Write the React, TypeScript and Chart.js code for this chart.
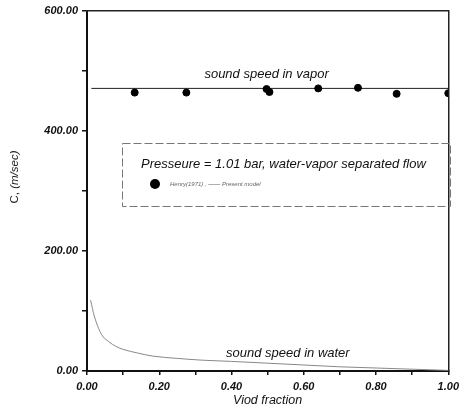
import React, { useEffect, useRef } from "react";
import { Chart, registerables } from "chart.js";

Chart.register(...registerables);

// Henry (1971) measured sound speed in vapor
const henryVoid = [0.132, 0.275, 0.497, 0.505, 0.64, 0.75, 0.857, 1.0];
const henrySpeed = [464, 464, 470, 465, 471, 472, 462, 463];

// Present model: sound speed in vapor
const vaporModelVoid = [0.012, 1.0];
const vaporModelSpeed = [471, 471];

// Present model: sound speed in water
const waterVoid = [0.01, 0.02, 0.04, 0.06, 0.08, 0.1, 0.14, 0.18, 0.25, 0.32, 0.4, 0.5, 0.6, 0.7, 0.8, 0.9, 1.0];
const waterSpeed = [118, 92, 61, 49, 41, 36, 30, 25, 21, 18, 16, 13, 10, 7, 5, 3, 1];

const xTickValues = [0, 0.1, 0.2, 0.3, 0.4, 0.5, 0.6, 0.7, 0.8, 0.9, 1.0];
const xTickLabels = ["0.00", "", "0.20", "", "0.40", "", "0.60", "", "0.80", "", "1.00"];
const yTickValues = [0, 100, 200, 300, 400, 500, 600];
const yTickLabels = ["0.00", "", "200.00", "", "400.00", "", "600.00"];

const xTitle = "Viod fraction";
const yTitleA = "C, ";
const yTitleB = "(m/sec)";
const vaporLabel = "sound speed in vapor";
const waterLabel = "sound speed in water";
const legendTitle = "Presseure = 1.01 bar, water-vapor separated flow";
const legendSub = "Henry(1971) , \u2014\u2014 Present model";

const FONT = '"Liberation Sans", Arial, sans-serif';

const annotate = {
  id: "annotate",
  afterDraw(chart: any) {
    const { ctx } = chart;
    const x = chart.scales.x;
    const y = chart.scales.y;
    ctx.save();
    ctx.fillStyle = "#111";
    ctx.textAlign = "center";
    ctx.textBaseline = "middle";
    ctx.font = `italic 13px ${FONT}`;
    ctx.fillText(vaporLabel, x.getPixelForValue(0.497), y.getPixelForValue(495));
    ctx.fillText(waterLabel, x.getPixelForValue(0.556), y.getPixelForValue(30));

    // legend box
    ctx.strokeStyle = "#777";
    ctx.lineWidth = 1;
    ctx.setLineDash([8, 3]);
    ctx.strokeRect(122.5, 143.5, 328, 63);
    ctx.setLineDash([]);
    ctx.textAlign = "left";
    ctx.fillStyle = "#111";
    ctx.font = `italic 13px ${FONT}`;
    ctx.fillText(legendTitle, 141, 164);
    ctx.beginPath();
    ctx.arc(155, 184, 5, 0, Math.PI * 2);
    ctx.fillStyle = "#000";
    ctx.fill();
    ctx.fillStyle = "#666";
    ctx.font = `italic 6px ${FONT}`;
    ctx.fillText(legendSub, 170, 184);

    // y axis title
    ctx.translate(15, 177);
    ctx.rotate(-Math.PI / 2);
    ctx.fillStyle = "#222";
    ctx.font = `11.5px ${FONT}`;
    const wa = ctx.measureText(yTitleA).width;
    ctx.font = `italic 11.5px ${FONT}`;
    const wb = ctx.measureText(yTitleB).width;
    const start = -(wa + wb) / 2;
    ctx.font = `11.5px ${FONT}`;
    ctx.fillText(yTitleA, start, 0);
    ctx.font = `italic 11.5px ${FONT}`;
    ctx.fillText(yTitleB, start + wa, 0);
    ctx.restore();
  },
};

export default function App() {
  const ref = useRef<HTMLCanvasElement | null>(null);

  useEffect(() => {
    if (!ref.current) return;
    const tickFont = { family: FONT, size: 11, style: "italic" as const, weight: "bold" as const };
    const chart = new Chart(ref.current, {
      type: "scatter",
      data: {
        datasets: [
          {
            label: "Henry(1971)",
            data: henryVoid.map((v, i) => ({ x: v, y: henrySpeed[i] })),
            backgroundColor: "#000",
            borderColor: "#000",
            pointRadius: 3.5,
            showLine: false,
          },
          {
            label: "Present model (vapor)",
            data: vaporModelVoid.map((v, i) => ({ x: v, y: vaporModelSpeed[i] })),
            borderColor: "#222",
            borderWidth: 1,
            pointRadius: 0,
            showLine: true,
          },
          {
            label: "Present model (water)",
            data: waterVoid.map((v, i) => ({ x: v, y: waterSpeed[i] })),
            borderColor: "#888",
            borderWidth: 1,
            pointRadius: 0,
            showLine: true,
            cubicInterpolationMode: "monotone",
          },
        ],
      },
      options: {
        responsive: false,
        animation: false,
        devicePixelRatio: 1,
        layout: { padding: { left: 0, top: 11, right: 13, bottom: 0 } },
        plugins: { legend: { display: false }, tooltip: { enabled: false } },
        scales: {
          x: {
            type: "linear",
            position: "bottom",
            min: 0,
            max: 1,
            afterBuildTicks: (s: any) => {
              s.ticks = xTickValues.map((v) => ({ value: v }));
            },
            afterFit: (s: any) => {
              s.height = 45;
            },
            ticks: {
              autoSkip: false,
              maxRotation: 0,
              padding: 5,
              color: "#111",
              font: tickFont,
              callback: (_v: any, i: number) => xTickLabels[i],
            },
            grid: { drawOnChartArea: false, tickLength: 4, color: "#111", lineWidth: 1.5 },
            border: { color: "#111", width: 2 },
            title: {
              display: true,
              text: xTitle,
              color: "#111",
              font: { family: FONT, size: 12.5, style: "italic" },
              padding: { top: 0, bottom: 8 },
            },
          },
          y: {
            type: "linear",
            position: "left",
            min: 0,
            max: 600,
            afterBuildTicks: (s: any) => {
              s.ticks = yTickValues.map((v) => ({ value: v }));
            },
            afterFit: (s: any) => {
              s.width = 87;
            },
            ticks: {
              autoSkip: false,
              padding: 4,
              color: "#111",
              font: tickFont,
              callback: (_v: any, i: number) => yTickLabels[i],
            },
            grid: { drawOnChartArea: false, tickLength: 5, color: "#111", lineWidth: 1.5 },
            border: { color: "#111", width: 2 },
          },
          x2: {
            type: "linear",
            position: "top",
            min: 0,
            max: 1,
            afterFit: (s: any) => {
              s.height = 0;
            },
            ticks: { display: false },
            grid: { drawOnChartArea: false, drawTicks: false },
            border: { color: "#222", width: 1.5 },
          },
          y2: {
            type: "linear",
            position: "right",
            min: 0,
            max: 600,
            afterFit: (s: any) => {
              s.width = 0;
            },
            ticks: { display: false },
            grid: { drawOnChartArea: false, drawTicks: false },
            border: { color: "#222", width: 1.5 },
          },
        },
      },
      plugins: [annotate],
    });
    return () => chart.destroy();
  }, []);

  return (
    <div style={{ position: "absolute", left: 0, top: 0, width: 464, height: 416, background: "#fff" }}>
      <canvas ref={ref} width={464} height={416} style={{ display: "block" }} />
    </div>
  );
}
